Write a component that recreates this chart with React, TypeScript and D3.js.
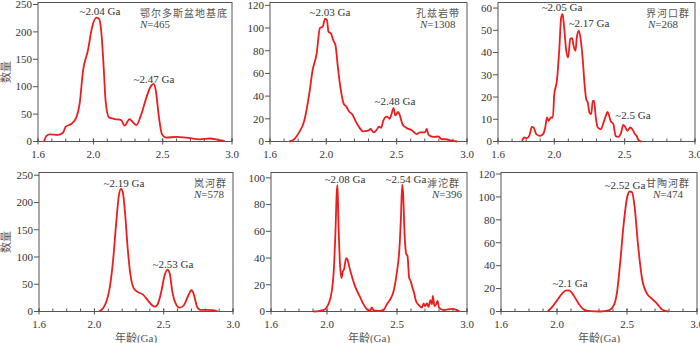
import React, { useRef, useEffect } from "react";
import * as d3 from "d3";

// Zircon U-Pb age spectra, six units

const width = 700,
  height = 343,
  lineColor = "#ee1c1c",
  axisColor = "#555",
  textColor = "#333";

const xLabels = [1.6, 2.0, 2.5, 3.0];
const xMinor = d3.range(16, 31).map((d) => d / 10);

const ordosCurve = [
  [1.643, 0], [1.66, 10], [1.684, 13], [1.744, 12], [1.78, 16], [1.8, 27], [1.84, 32],
  [1.877, 44], [1.9, 68], [1.925, 129], [1.96, 166], [1.99, 208], [2.02, 226], [2.04, 224],
  [2.056, 202], [2.074, 135], [2.088, 74], [2.112, 44], [2.153, 41], [2.2, 39], [2.225, 29],
  [2.26, 41], [2.286, 35], [2.31, 30], [2.346, 50], [2.382, 80], [2.41, 99], [2.435, 105],
  [2.45, 93], [2.473, 44], [2.495, 13], [2.526, 7], [2.598, 8.5], [2.67, 7], [2.767, 4],
  [2.84, 5.5], [2.91, 2.4], [2.947, 1],
];

const khondaliteCurve = [
  [1.736, 0], [1.772, 2], [1.807, 8], [1.843, 18], [1.879, 42], [1.903, 63], [1.931, 77],
  [1.955, 100], [1.974, 101], [1.991, 108], [2.005, 107], [2.015, 97], [2.034, 95], [2.05, 89],
  [2.065, 85], [2.082, 66], [2.1, 48], [2.125, 33], [2.141, 31], [2.165, 26], [2.184, 24],
  [2.208, 18], [2.237, 12], [2.26, 9], [2.296, 9.5], [2.315, 11], [2.337, 8], [2.356, 10],
  [2.375, 13], [2.39, 12], [2.404, 18], [2.428, 22], [2.442, 21], [2.45, 20], [2.463, 24],
  [2.478, 29.5], [2.49, 23], [2.51, 26], [2.523, 23], [2.542, 15], [2.57, 12], [2.607, 10],
  [2.642, 6.5], [2.666, 8], [2.7, 8], [2.714, 11], [2.726, 6], [2.76, 4], [2.797, 4.4],
  [2.82, 2], [2.85, 2], [2.88, 1], [2.93, 0],
];

const jiehekouCurve = [
  [1.77, 0.3], [1.787, 1.8], [1.806, 1.5], [1.822, 2.5], [1.841, 6.6], [1.853, 6.3],
  [1.872, 3.3], [1.9, 2.5], [1.92, 3.3], [1.936, 6.3], [1.948, 10.8], [1.96, 9.3],
  [1.976, 10.8], [1.99, 10.8], [2.0, 21.3], [2.018, 27], [2.035, 40.8], [2.049, 55.8],
  [2.059, 57.3], [2.07, 51.3], [2.085, 40.8], [2.099, 37.8], [2.113, 46], [2.127, 46.5],
  [2.137, 43], [2.151, 40.8], [2.16, 46.8], [2.175, 49.8], [2.189, 45.3], [2.203, 36.3],
  [2.215, 25.8], [2.227, 19], [2.238, 17.5], [2.25, 13], [2.262, 12.3], [2.274, 18.3],
  [2.283, 18.3], [2.295, 10.8], [2.309, 6.3], [2.33, 5.5], [2.35, 8.5], [2.366, 11.5],
  [2.378, 13.3], [2.39, 11.5], [2.4, 9.3], [2.42, 7.8], [2.436, 2.5], [2.455, 2.1],
  [2.475, 4], [2.49, 7.5], [2.503, 6.6], [2.52, 4.8], [2.539, 6.3], [2.555, 5.5],
  [2.574, 3.3], [2.586, 2.5], [2.598, 0.6], [2.62, 0],
];

const lanheCurve = [
  [2.033, 0], [2.062, 6], [2.086, 18], [2.11, 43], [2.134, 92], [2.158, 165], [2.177, 214],
  [2.192, 225], [2.206, 217], [2.22, 184], [2.24, 116], [2.26, 67], [2.283, 43], [2.315, 35.5],
  [2.35, 31], [2.387, 20], [2.418, 11], [2.437, 9], [2.459, 15], [2.483, 37], [2.507, 67],
  [2.526, 77], [2.543, 70], [2.562, 37], [2.586, 15], [2.615, 7], [2.644, 11], [2.675, 28],
  [2.7, 39], [2.718, 31], [2.74, 9], [2.764, 3], [2.807, 3], [2.856, 2.5], [2.89, 0],
];

const hutuoCurve = [
  [1.903, 0], [1.95, 0.5], [1.986, 1.7], [2.01, 5.5], [2.034, 15], [2.05, 33], [2.06, 58],
  [2.07, 90], [2.075, 94.5], [2.081, 70], [2.093, 35], [2.103, 25], [2.113, 30], [2.122, 31.6],
  [2.137, 40], [2.146, 39], [2.16, 33], [2.177, 26.6], [2.2, 19], [2.232, 11.7], [2.26, 5.5],
  [2.285, 1.7], [2.308, 0.5], [2.32, 3], [2.332, 1], [2.368, 0.5], [2.404, 1], [2.428, 5.5],
  [2.451, 9], [2.475, 15], [2.5, 30], [2.516, 45], [2.528, 70], [2.537, 95], [2.544, 88],
  [2.554, 58], [2.566, 43], [2.575, 41.5], [2.587, 25], [2.597, 23], [2.61, 18], [2.623, 13.5],
  [2.635, 8], [2.654, 5], [2.678, 3], [2.69, 6], [2.7, 4], [2.713, 6], [2.726, 3.5],
  [2.738, 8.5], [2.75, 5.5], [2.756, 11.7], [2.768, 4], [2.78, 5.5], [2.79, 8], [2.8, 3],
  [2.833, 1], [2.893, 2], [2.928, 1], [2.947, 0],
];

const gantaoheCurve = [
  [1.933, 0], [1.964, 3.8], [2.0, 9.7], [2.036, 15.6], [2.067, 18.5], [2.09, 18.2],
  [2.119, 14], [2.155, 6.8], [2.19, 1.8], [2.238, 0.3], [2.31, 0], [2.369, 0.9],
  [2.405, 5.3], [2.429, 17], [2.452, 43.5], [2.476, 76], [2.5, 99], [2.519, 104.7],
  [2.536, 104], [2.555, 90.6], [2.579, 58], [2.607, 29], [2.643, 15.6], [2.679, 11],
  [2.714, 6.8], [2.75, 1.8], [2.798, 0],
];

// peak labels: [text, age, count] (text anchor in data space)
const ordosPeaks = [["~2.04 Ga", 2.047, 230.8], ["~2.47 Ga", 2.437, 106.7]];
const khondalitePeaks = [["~2.03 Ga", 2.026, 111], ["~2.48 Ga", 2.488, 32.6]];
const jiehekouPeaks = [["~2.05 Ga", 2.055, 58.5], ["~2.17 Ga", 2.247, 51.3], ["~2.5 Ga", 2.559, 9.9]];
const lanhePeaks = [["~2.19 Ga", 2.213, 229.3], ["~2.53 Ga", 2.567, 78.9]];
const hutuoPeaks = [["~2.08 Ga", 2.129, 95.8], ["~2.54 Ga", 2.564, 96.5]];
const gantaohePeaks = [["~2.52 Ga", 2.486, 107.3], ["~2.1 Ga", 2.093, 21.8]];

const panels = [
  { name: "鄂尔多斯盆地基底", n: "465", curve: ordosCurve, peaks: ordosPeaks,
    yTicks: d3.range(0, 251, 50), yTop: 253.6,
    box: { left: 38, right: 232, top: 2.5, bottom: 141.5 }, nameEnd: 228, nStart: 140, yTitle: true, xTitle: false },
  { name: "孔兹岩带", n: "1308", curve: khondaliteCurve, peaks: khondalitePeaks,
    yTicks: d3.range(0, 121, 20), yTop: 122.5,
    box: { left: 270, right: 467, top: 2.5, bottom: 141.5 }, nameEnd: 460, nStart: 420, yTitle: false, xTitle: false },
  { name: "界河口群", n: "268", curve: jiehekouCurve, peaks: jiehekouPeaks,
    yTicks: d3.range(0, 61, 10), yTop: 62.5,
    box: { left: 498, right: 695, top: 2.5, bottom: 141.5 }, nameEnd: 690, nStart: 648, yTitle: false, xTitle: false },
  { name: "岚河群", n: "578", curve: lanheCurve, peaks: lanhePeaks,
    yTicks: d3.range(0, 251, 50), yTop: 255,
    box: { left: 39, right: 233, top: 172.5, bottom: 311.5 }, nameEnd: 227, nStart: 194, yTitle: true, xTitle: true },
  { name: "滹沱群", n: "396", curve: hutuoCurve, peaks: hutuoPeaks,
    yTicks: d3.range(0, 101, 20), yTop: 104,
    box: { left: 271, right: 467, top: 172.5, bottom: 311.5 }, nameEnd: 460, nStart: 432, yTitle: false, xTitle: true },
  { name: "甘陶河群", n: "474", curve: gantaoheCurve, peaks: gantaohePeaks,
    yTicks: d3.range(0, 121, 20), yTop: 121.3,
    box: { left: 501, right: 697, top: 172.5, bottom: 311.5 }, nameEnd: 690, nStart: 653, yTitle: false, xTitle: true },
];

const serif = "Liberation Serif, DejaVu Serif, Noto Sans CJK SC, serif";

export default function App() {
  const svgRef = useRef<SVGSVGElement | null>(null);

  useEffect(() => {
    const svg = d3.select(svgRef.current).attr("width", width).attr("height", height);
    svg.selectAll("*").remove();

    panels.forEach((p) => {
      const { left, right, top, bottom } = p.box;
      const x = d3.scaleLinear().domain([1.6, 3.0]).range([left, right]);
      const y = d3.scaleLinear().domain([0, p.yTop]).range([bottom, top]);
      const g = svg.append("g").style("font-family", serif);

      // frame
      g.append("rect")
        .attr("x", left).attr("y", top)
        .attr("width", right - left).attr("height", bottom - top)
        .attr("fill", "none").attr("stroke", axisColor).attr("stroke-width", 1);

      // x ticks: minor ones point inward, labelled ones cross the axis
      g.selectAll(".xminor").data(xMinor).join("line")
        .attr("x1", (d) => x(d)).attr("x2", (d) => x(d))
        .attr("y1", bottom).attr("y2", bottom - 3)
        .attr("stroke", axisColor);
      g.selectAll(".xmajor").data(xLabels).join("line")
        .attr("x1", (d) => x(d)).attr("x2", (d) => x(d))
        .attr("y1", bottom - 3).attr("y2", bottom + 3)
        .attr("stroke", axisColor);
      g.selectAll(".xlab").data(xLabels).join("text")
        .attr("x", (d) => x(d)).attr("y", bottom + 16)
        .attr("text-anchor", "middle")
        .attr("font-size", 11).attr("fill", textColor)
        .text((d) => d.toFixed(1));

      // y ticks
      g.selectAll(".ytick").data(p.yTicks).join("line")
        .attr("x1", left - 5).attr("x2", left)
        .attr("y1", (d) => y(d)).attr("y2", (d) => y(d))
        .attr("stroke", axisColor);
      g.selectAll(".ylab").data(p.yTicks).join("text")
        .attr("x", left - 6).attr("y", (d) => y(d) + 3.8)
        .attr("text-anchor", "end")
        .attr("font-size", 11).attr("fill", textColor)
        .text((d) => d);

      // curve
      const lineGen = d3.line<number[]>()
        .x((d) => x(d[0]))
        .y((d) => y(d[1]))
        .curve(d3.curveMonotoneX);
      g.append("path")
        .datum(p.curve)
        .attr("d", lineGen)
        .attr("fill", "none")
        .attr("stroke", lineColor)
        .attr("stroke-width", 1.8)
        .attr("stroke-linejoin", "round");

      // peak labels
      g.selectAll(".peak").data(p.peaks).join("text")
        .attr("x", (d) => x(d[1] as number)).attr("y", (d) => y(d[2] as number))
        .attr("text-anchor", "middle")
        .attr("font-size", 11).attr("fill", textColor)
        .text((d) => d[0] as string);

      // unit name and sample count
      g.append("text")
        .attr("x", p.nameEnd).attr("y", top + 14.5)
        .attr("text-anchor", "end")
        .attr("font-size", 10).attr("letter-spacing", 1)
        .attr("fill", "#555")
        .text(p.name);
      const nt = g.append("text")
        .attr("x", p.nStart).attr("y", top + 25.5)
        .attr("font-size", 11).attr("fill", "#444");
      nt.append("tspan").attr("font-style", "italic").text("N");
      nt.append("tspan").text("=" + p.n);

      if (p.yTitle) {
        g.append("text")
          .attr("transform", `translate(10, ${(top + bottom) / 2}) rotate(-90)`)
          .attr("text-anchor", "middle")
          .attr("font-size", 11).attr("fill", "#555")
          .text("数量");
      }
      if (p.xTitle) {
        g.append("text")
          .attr("x", (left + right) / 2).attr("y", 342)
          .attr("text-anchor", "middle")
          .attr("font-size", 11).attr("fill", "#555")
          .text("年龄(Ga)");
      }
    });

    return () => {
      svg.selectAll("*").remove();
    };
  }, []);

  return (
    <div style={{ position: "absolute", left: 0, top: 0 }}>
      <svg ref={svgRef} style={{ display: "block" }}></svg>
    </div>
  );
}
